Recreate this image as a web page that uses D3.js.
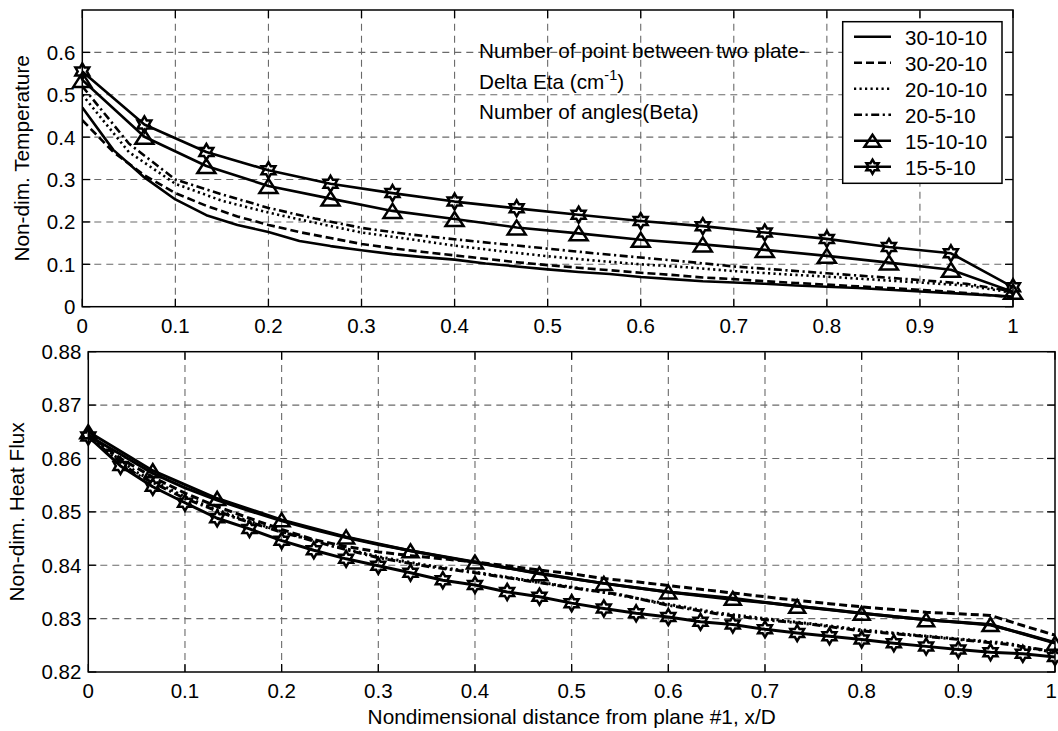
<!DOCTYPE html>
<html><head><meta charset="utf-8">
<script src="https://cdn.jsdelivr.net/npm/d3@7"></script>
<style>
html,body{margin:0;padding:0;background:#fff;}
svg{display:block;}
text{font-family:"Liberation Sans",Arial,sans-serif;fill:#000;}
</style></head>
<body><svg id="chart" width="1058" height="731"></svg>
<script>
// ---------- data ----------
const seriesNames = ["30-10-10","30-20-10","20-10-10","20-5-10","15-10-10","15-5-10"];
const xTickValues = [0,0.1,0.2,0.3,0.4,0.5,0.6,0.7,0.8,0.9,1];
const xTickLabels = ["0","0.1","0.2","0.3","0.4","0.5","0.6","0.7","0.8","0.9","1"];
const tempYTicks = [0,0.1,0.2,0.3,0.4,0.5,0.6];
const tempYLabels = ["0","0.1","0.2","0.3","0.4","0.5","0.6"];
const fluxYTicks = [0.82,0.83,0.84,0.85,0.86,0.87,0.88];
const fluxYLabels = ["0.82","0.83","0.84","0.85","0.86","0.87","0.88"];

const x15 = [0,0.0667,0.1333,0.2,0.2667,0.3333,0.4,0.4667,0.5333,0.6,0.6667,0.7333,0.8,0.8667,0.9333,1];
const x20 = [0,0.05,0.1,0.15,0.2,0.25,0.3,0.35,0.4,0.45,0.5,0.55,0.6,0.65,0.7,0.75,0.8,0.85,0.9,0.95,1];
const x30 = [0,0.0333,0.0667,0.1,0.1333,0.1667,0.2,0.2333,0.2667,0.3,0.3333,0.3667,0.4,0.4333,0.4667,0.5,0.5333,0.5667,0.6,0.6333,0.6667,0.7,0.7333,0.7667,0.8,0.8333,0.8667,0.9,0.9333,0.9667,1];

// Non-dim. Temperature
const temp_30_10_10 = [0.47,0.37,0.305,0.253,0.216,0.193,0.176,0.155,0.143,0.133,0.124,0.117,0.111,0.102,0.095,0.088,0.082,0.077,0.070,0.065,0.060,0.057,0.054,0.050,0.047,0.044,0.040,0.036,0.032,0.028,0.024];
const temp_30_20_10 = [0.44,0.365,0.31,0.268,0.238,0.213,0.193,0.176,0.162,0.148,0.138,0.129,0.121,0.113,0.105,0.098,0.092,0.086,0.080,0.075,0.069,0.065,0.060,0.056,0.052,0.048,0.044,0.040,0.035,0.029,0.022];
const temp_20_10_10 = [0.50,0.365,0.29,0.25,0.222,0.198,0.175,0.160,0.144,0.131,0.119,0.109,0.100,0.093,0.084,0.077,0.071,0.064,0.057,0.050,0.033];
const temp_20_5_10 = [0.52,0.385,0.30,0.265,0.233,0.208,0.186,0.171,0.159,0.148,0.137,0.126,0.116,0.106,0.095,0.087,0.079,0.071,0.063,0.054,0.036];
const temp_15_10_10 = [0.535,0.401,0.332,0.285,0.255,0.226,0.207,0.187,0.173,0.158,0.147,0.134,0.120,0.104,0.087,0.035];
const temp_15_5_10 = [0.555,0.430,0.365,0.322,0.290,0.268,0.248,0.232,0.217,0.202,0.190,0.175,0.160,0.141,0.126,0.046];

// Non-dim. Heat Flux
const flux_30_10_10 = [0.8643,0.8608,0.8572,0.8545,0.8522,0.8502,0.8483,0.8467,0.8452,0.8439,0.8427,0.8416,0.8405,0.8395,0.8385,0.8375,0.8366,0.8358,0.8350,0.8343,0.8336,0.8330,0.8323,0.8317,0.8310,0.8304,0.8298,0.8293,0.8288,0.8272,0.8255];
const flux_30_20_10 = [0.8645,0.8600,0.8565,0.8535,0.8510,0.8488,0.8467,0.8448,0.8435,0.8425,0.8418,0.8412,0.8406,0.8399,0.8391,0.8384,0.8375,0.8369,0.8362,0.8355,0.8348,0.8341,0.8334,0.8328,0.8322,0.8317,0.8312,0.8309,0.8306,0.8287,0.8269];
const flux_20_10_10 = [0.8642,0.8574,0.8528,0.8492,0.8463,0.8438,0.8416,0.8400,0.8387,0.8373,0.8359,0.8344,0.8327,0.8311,0.8300,0.8290,0.8279,0.8270,0.8262,0.8254,0.8236];
const flux_20_5_10 = [0.8640,0.8570,0.8525,0.8490,0.8462,0.8437,0.8414,0.8398,0.8386,0.8372,0.8358,0.8345,0.8325,0.8309,0.8298,0.8289,0.8277,0.8269,0.8261,0.8252,0.8238];
const flux_15_10_10 = [0.8650,0.8577,0.8525,0.8485,0.8453,0.8427,0.8406,0.8384,0.8366,0.8350,0.8338,0.8323,0.8310,0.8298,0.8289,0.8254];
const flux_15_5_10 = [0.8641,0.8586,0.8547,0.8517,0.8488,0.8468,0.8446,0.8428,0.8412,0.8399,0.8386,0.8372,0.8363,0.8350,0.8341,0.8329,0.8319,0.8310,0.8303,0.8294,0.8289,0.8280,0.8273,0.8267,0.8261,0.8254,0.8248,0.8242,0.8237,0.8234,0.8228];

const annotationLines = ["Number of point between two plate-","Delta Eta (cm","Number of angles(Beta)"];
const xAxisTitle = "Nondimensional distance from plane #1, x/D";
const tempTitle = "Non-dim. Temperature";
const fluxTitle = "Non-dim. Heat Flux";

// ---------- styles ----------
const styles = [
  {dash:null, marker:null},
  {dash:"8,4", marker:null},
  {dash:"2.2,3.3", marker:null},
  {dash:"8,3.5,2.2,3.5", marker:null},
  {dash:null, marker:"tri"},
  {dash:null, marker:"hex"}
];

const svg = d3.select("#chart");
svg.append("rect").attr("width",1058).attr("height",731).attr("fill","#fff");

function hexPath(cx, cy, R){
  const pts=[];
  for(let k=0;k<12;k++){
    const a=(-90+k*30)*Math.PI/180;
    const r = k%2===0 ? R : R/Math.sqrt(3);
    pts.push([cx+r*Math.cos(a), cy+r*Math.sin(a)]);
  }
  return d3.line()(pts)+"Z";
}
function triPath(cx, cy, w, h){
  return d3.line()([[cx,cy-h/2],[cx-w/2,cy+h/2],[cx+w/2,cy+h/2]])+"Z";
}
function drawMarker(g, kind, cx, cy, ms){
  if(kind==="tri"){
    g.append("path").attr("d",triPath(cx,cy,ms.tw,ms.th)).attr("fill","none").attr("stroke","#000").attr("stroke-width",2.5).attr("stroke-linejoin","miter");
  } else if(kind==="hex"){
    g.append("path").attr("d",hexPath(cx,cy,ms.hr)).attr("fill","none").attr("stroke","#000").attr("stroke-width",2.5);
  }
}

function panel(cfg){
  const x = d3.scaleLinear().domain([0,1]).range([cfg.left,cfg.right]);
  const y = d3.scaleLinear().domain(cfg.yDomain).range([cfg.bottom,cfg.top]);
  const g = svg.append("g");
  const grid = g.append("g").attr("stroke","#6a6a6a").attr("stroke-width",1.1).attr("stroke-dasharray","7,5");
  xTickValues.forEach(v=>{ if(v>0 && v<1) grid.append("line").attr("x1",x(v)).attr("x2",x(v)).attr("y1",cfg.bottom).attr("y2",cfg.top); });
  cfg.yTicks.forEach(v=>{ if(y(v)<cfg.bottom-1 && y(v)>cfg.top+1) grid.append("line").attr("x1",cfg.left).attr("x2",cfg.right).attr("y1",y(v)).attr("y2",y(v)); });
  const clipId = "clip"+cfg.id;
  svg.append("clipPath").attr("id",clipId).append("rect").attr("x",cfg.left).attr("y",cfg.top).attr("width",cfg.right-cfg.left).attr("height",cfg.bottom-cfg.top);
  const line = d3.line().x(d=>x(d[0])).y(d=>y(d[1]));
  cfg.series.forEach((s,i)=>{
    const pts = s.xs.map((xv,j)=>[xv,s.ys[j]]);
    const st = styles[i];
    g.append("path").attr("d",line(pts)).attr("fill","none").attr("stroke","#000")
      .attr("stroke-width",cfg.lw).attr("stroke-dasharray",st.dash).attr("stroke-linejoin","round")
      .attr("clip-path","url(#"+clipId+")");
    if(st.marker){
      const mg = g.append("g");
      pts.forEach(p=>drawMarker(mg, st.marker, x(p[0]), y(p[1]), cfg.ms));
    }
  });
  g.append("rect").attr("x",cfg.left).attr("y",cfg.top).attr("width",cfg.right-cfg.left).attr("height",cfg.bottom-cfg.top)
    .attr("fill","none").attr("stroke","#000").attr("stroke-width",1.5);
  const tk = g.append("g").attr("stroke","#000").attr("stroke-width",1.3);
  const TL = 8;
  xTickValues.forEach(v=>{
    tk.append("line").attr("x1",x(v)).attr("x2",x(v)).attr("y1",cfg.bottom).attr("y2",cfg.bottom-TL);
    tk.append("line").attr("x1",x(v)).attr("x2",x(v)).attr("y1",cfg.top).attr("y2",cfg.top+TL);
  });
  cfg.yTicks.forEach(v=>{
    tk.append("line").attr("x1",cfg.left).attr("x2",cfg.left+TL).attr("y1",y(v)).attr("y2",y(v));
    tk.append("line").attr("x1",cfg.right).attr("x2",cfg.right-TL).attr("y1",y(v)).attr("y2",y(v));
  });
  xTickValues.forEach((v,i)=>{
    let px = x(v), anchor = "middle";
    if(px + 6 > 1058){ px = 1057; anchor = "end"; }
    g.append("text").attr("x",px).attr("y",cfg.bottom+26).attr("text-anchor",anchor)
      .attr("font-size",cfg.fs).text(xTickLabels[i]);
  });
  cfg.yTicks.forEach((v,i)=>{
    g.append("text").attr("x",cfg.left-7).attr("y",y(v)).attr("dy","0.36em").attr("text-anchor","end")
      .attr("font-size",cfg.fs).text(cfg.yLabels[i]);
  });
  g.append("text").attr("transform",`translate(${cfg.ytx},${(cfg.top+cfg.bottom)/2}) rotate(-90)`)
    .attr("text-anchor","middle").attr("font-size",cfg.tfs).text(cfg.title);
  return {x,y,g};
}

const topPanel = panel({
  id:"t", left:82.3, right:1013, top:10, bottom:306.7, yDomain:[0,0.7],
  yTicks:tempYTicks, yLabels:tempYLabels, fs:20.5, tfs:20.8, lw:2.6, ytx:29, title:tempTitle,
  ms:{tw:18,th:14,hr:8},
  series:[
    {xs:x30, ys:temp_30_10_10},
    {xs:x30, ys:temp_30_20_10},
    {xs:x20, ys:temp_20_10_10},
    {xs:x20, ys:temp_20_5_10},
    {xs:x15, ys:temp_15_10_10},
    {xs:x15, ys:temp_15_5_10}
  ]
});

const botPanel = panel({
  id:"b", left:88.3, right:1055, top:351.7, bottom:672, yDomain:[0.82,0.88],
  yTicks:fluxYTicks, yLabels:fluxYLabels, fs:20.5, tfs:20.8, lw:3, ytx:23.5, title:fluxTitle,
  ms:{tw:16,th:13,hr:8},
  series:[
    {xs:x30, ys:flux_30_10_10},
    {xs:x30, ys:flux_30_20_10},
    {xs:x20, ys:flux_20_10_10},
    {xs:x20, ys:flux_20_5_10},
    {xs:x15, ys:flux_15_10_10},
    {xs:x30, ys:flux_15_5_10}
  ]
});

svg.append("text").attr("x",(88.3+1055)/2).attr("y",724).attr("text-anchor","middle").attr("font-size",20.8).text(xAxisTitle);

const ann = svg.append("g").attr("font-size",20.7);
ann.append("text").attr("x",479).attr("y",58).text(annotationLines[0]);
const t2 = ann.append("text").attr("x",479).attr("y",89);
t2.append("tspan").text(annotationLines[1]);
t2.append("tspan").attr("dy",-9).attr("font-size",14.5).text("-1");
t2.append("tspan").attr("dy",9).text(")");
ann.append("text").attr("x",479).attr("y",119).text(annotationLines[2]);

const lg = svg.append("g");
lg.append("rect").attr("x",842.7).attr("y",21.7).attr("width",1002-842.7).attr("height",183.3-21.7)
  .attr("fill","#fff").attr("stroke","#000").attr("stroke-width",1.5);
seriesNames.forEach((name,i)=>{
  const cy = 36.7 + i*26;
  lg.append("line").attr("x1",854).attr("x2",891).attr("y1",cy).attr("y2",cy)
    .attr("stroke","#000").attr("stroke-width",2.6).attr("stroke-dasharray",styles[i].dash);
  if(styles[i].marker) drawMarker(lg, styles[i].marker, 872.5, cy, {tw:16,th:12,hr:7});
  lg.append("text").attr("x",905).attr("y",cy+8).attr("font-size",20.5).text(name);
});
</script></body></html>
